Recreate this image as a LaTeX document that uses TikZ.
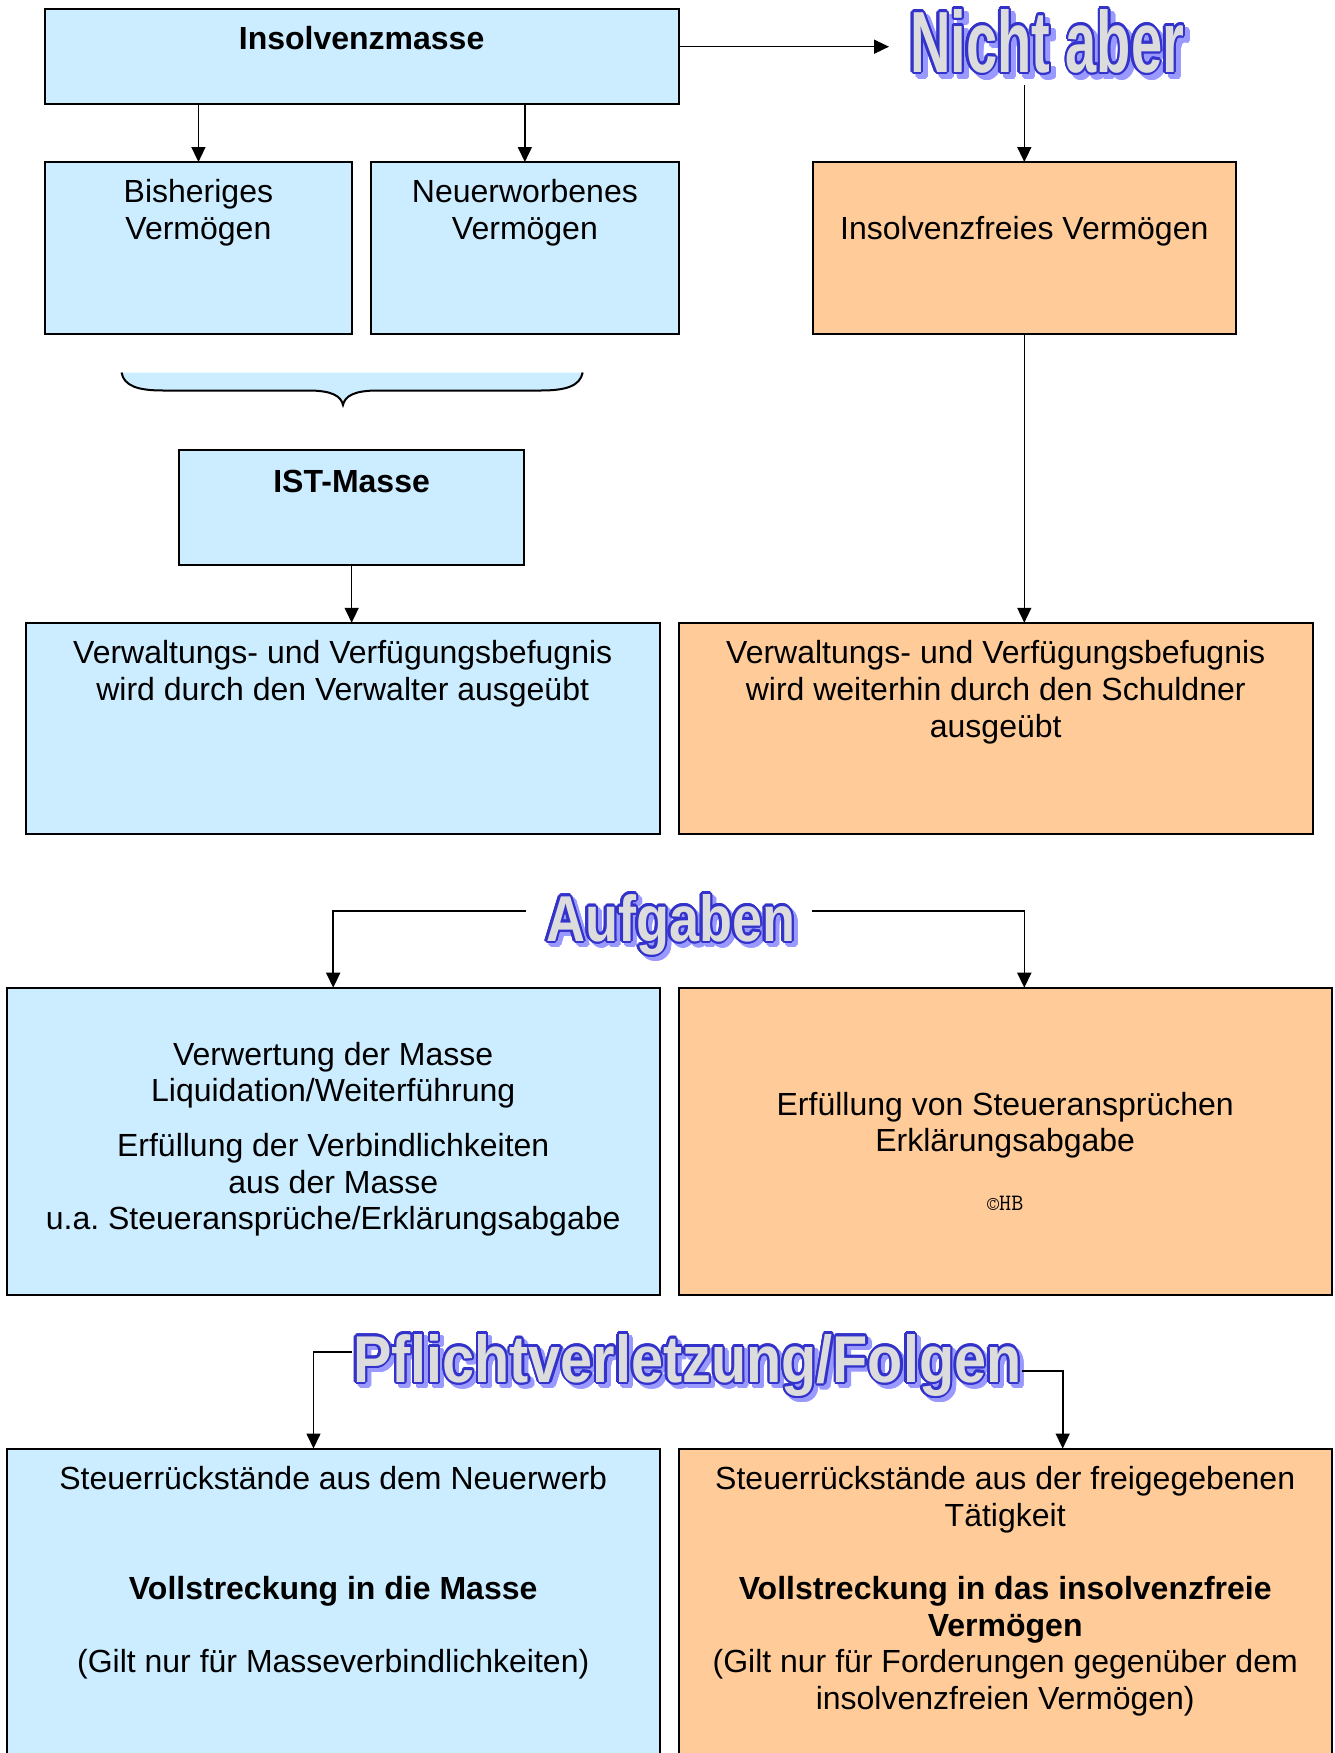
\documentclass[tikz,border=0pt]{standalone}
\usepackage{fontspec}
\setmainfont{Liberation Sans}
\usepackage{graphicx}
\usetikzlibrary{arrows.meta,fit,calc}
\frenchspacing

\definecolor{boxblue}{HTML}{CCECFF}
\definecolor{boxpeach}{HTML}{FFCC99}
\definecolor{artline}{HTML}{3333CC}
\definecolor{artshade}{HTML}{9999FF}
\definecolor{artfill}{HTML}{DCDCDC}

% stretched bold lettering for the headings
\newcommand\arttext[3]{\resizebox{#1pt}{#2pt}{\bfseries #3}}

% heading with blue outline and drop shadow
% #1 name, #2 x, #3 y of baseline start, #4 width, #5 height, #6 text, #7/#8 shadow offset
\newcommand\artitle[8]{%
  \foreach \i in {0,...,15}{%
    \pgfmathsetmacro\ox{#2+#7+2.3*cos(\i*22.5)}%
    \pgfmathsetmacro\oy{#3+#8+2.3*sin(\i*22.5)}%
    \node[art, text=artshade, name=#1-s\i] at (\ox,\oy) {\arttext{#4}{#5}{#6}};
  }
  \foreach \i in {0,...,15}{%
    \pgfmathsetmacro\ox{#2+2.3*cos(\i*22.5)}%
    \pgfmathsetmacro\oy{#3+2.3*sin(\i*22.5)}%
    \node[art, text=artline, name=#1-o\i] at (\ox,\oy) {\arttext{#4}{#5}{#6}};
  }
  \node[art, text=artfill, name=#1] at (#2,#3) {\arttext{#4}{#5}{#6}};
}

\tikzset{
  art/.style={anchor=base west, inner sep=0pt, outer sep=0pt},
  bluebox/.style={draw=black, line width=2pt, fill=boxblue, inner sep=0pt, outer sep=0pt},
  peachbox/.style={draw=black, line width=2pt, fill=boxpeach, inner sep=0pt, outer sep=0pt},
  txt/.style={anchor=base, inner sep=0pt, font=\fontsize{32}{36.9}\selectfont},
  small/.style={anchor=base, inner sep=0pt, font=\ttfamily\fontsize{23.5}{26}\selectfont},
  arr/.style={draw=black, line width=1.6pt, -{Triangle[length=15pt,width=14pt]}},
}

\begin{document}
\begin{tikzpicture}[x=1pt, y=-1pt]
\useasboundingbox (0,0) rectangle (1334,1753);
\clip (0,0) rectangle (1334,1753);
\fill[white] (0,0) rectangle (1334,1753);

% ---- boxes
\node[bluebox, fit={(44.7,8.9) (678.5,104)}] (masse) {};
\node[bluebox, fit={(44.7,162) (352.2,334.3)}] (bish) {};
\node[bluebox, fit={(371.2,162) (678.5,334.3)}] (neu) {};
\node[peachbox, fit={(813,162) (1235.6,334.3)}] (frei) {};
\node[bluebox, fit={(178.9,449.5) (524.4,564.7)}] (ist) {};
\node[bluebox, fit={(25.7,622.8) (659.7,834.2)}] (vl) {};
\node[peachbox, fit={(678.7,622.8) (1312.7,834.2)}] (vr) {};
\node[bluebox, fit={(6.7,987.7) (659.7,1295)}] (tl) {};
\node[peachbox, fit={(678.7,987.7) (1331.7,1295)}] (tr) {};
\node[bluebox, fit={(6.7,1448.5) (659.7,1790)}] (bl) {};
\node[peachbox, fit={(678.7,1448.5) (1331.7,1790)}] (br) {};

% ---- curly brace below the two asset boxes
\fill[boxblue] (121.5,372.5) .. controls (124,386) and (138,390.5) .. (163,390.5)
  -- (308,390.5) .. controls (332,390.5) and (341,396) .. (343,405)
  .. controls (345,396) and (354,390.5) .. (378,390.5)
  -- (541,390.5) .. controls (566,390.5) and (580,386) .. (582.7,372.5) -- cycle;
\draw[line width=2pt] (121.5,372.5) .. controls (124,386) and (138,390.5) .. (163,390.5)
  -- (308,390.5) .. controls (332,390.5) and (341,396) .. (343,405)
  .. controls (345,396) and (354,390.5) .. (378,390.5)
  -- (541,390.5) .. controls (566,390.5) and (580,386) .. (582.7,372.5);

% ---- headings
\artitle{nicht}{910}{72}{274}{63}{Nicht aber}{5}{5}
\artitle{auf}{546}{941}{249}{47}{Aufgaben}{4}{4}
\artitle{pf}{353}{1382}{668}{48}{Pflichtverletzung/Folgen}{4}{4}

% ---- texts
\node[txt] (t-masse) at (361.6,50) {\bfseries Insolvenzmasse};
\node[txt] (t-bish1) at (198.4,202) {Bisheriges};
\node[txt] (t-bish2) at (198.4,239) {Vermögen};
\node[txt] (t-neu1) at (524.9,202) {Neuerworbenes};
\node[txt] (t-neu2) at (524.9,239) {Vermögen};
\node[txt] (t-frei) at (1024.3,239) {Insolvenzfreies Vermögen};
\node[txt] (t-ist) at (351.6,492) {\bfseries IST-Masse};

\node[txt] (t-vl1) at (342.7,663) {Verwaltungs- und Verfügungsbefugnis};
\node[txt] (t-vl2) at (342.7,700) {wird durch den Verwalter ausgeübt};
\node[txt] (t-vr1) at (995.7,663) {Verwaltungs- und Verfügungsbefugnis};
\node[txt] (t-vr2) at (995.7,700) {wird weiterhin durch den Schuldner};
\node[txt] (t-vr3) at (995.7,737) {ausgeübt};

\node[txt] (t-tl1) at (333.2,1065) {Verwertung der Masse};
\node[txt] (t-tl2) at (333.2,1101.7) {Liquidation/Weiterführung};
\node[txt] (t-tl3) at (333.2,1156.7) {Erfüllung der Verbindlichkeiten};
\node[txt] (t-tl4) at (333.2,1193.3) {aus der Masse};
\node[txt] (t-tl5) at (333.2,1229.3) {u.a. Steueransprüche/Erklärungsabgabe};
\node[txt] (t-tr1) at (1005.2,1115) {Erfüllung von Steueransprüchen};
\node[txt] (t-tr2) at (1005.2,1151.6) {Erklärungsabgabe};
\node[small] (t-copy) at (1005.2,1210) {©HB};

\node[txt] (t-bl1) at (333.2,1489) {Steuerrückstände aus dem Neuerwerb};
\node[txt] (t-bl2) at (333.2,1599) {\bfseries Vollstreckung in die Masse};
\node[txt] (t-bl3) at (333.2,1672.6) {(Gilt nur für Masseverbindlichkeiten)};
\node[txt] (t-br1) at (1005.2,1489) {Steuerrückstände aus der freigegebenen};
\node[txt] (t-br2) at (1005.2,1526) {Tätigkeit};
\node[txt] (t-br3) at (1005.2,1599) {\bfseries Vollstreckung in das insolvenzfreie};
\node[txt] (t-br4) at (1005.2,1636) {\bfseries Vermögen};
\node[txt] (t-br5) at (1005.2,1672.6) {(Gilt nur für Forderungen gegenüber dem};
\node[txt] (t-br6) at (1005.2,1709.6) {insolvenzfreien Vermögen)};

% ---- connectors
\draw[arr, shorten >=21pt] ([yshift=9.75pt]masse.east) -- ([yshift=9.75pt]masse.east -| nicht.west);
\draw[arr] (bish.north |- masse.south) -- (bish.north);
\draw[arr] (neu.north |- masse.south) -- (neu.north);
\draw[arr, shorten <=13pt] (frei.north |- nicht.base) -- (frei.north);
\draw[arr] (frei.south) -- (frei.south |- vr.north);
\draw[arr] (ist.south) -- (ist.south |- vl.north);

\draw[arr, shorten <=20pt] ([yshift=30pt]auf.base west) -| (tl.north);
\draw[arr, shorten <=17pt] ([yshift=30pt]auf.base east) -| (frei.south |- tr.north);

\draw[arr, shorten <=1pt] ([yshift=30pt]pf.base west) -| ([xshift=-19.7pt]bl.north);
\draw[arr, shorten <=1pt] ([yshift=11pt]pf.base east) -| ([xshift=57.5pt]br.north);
\end{tikzpicture}
\end{document}
